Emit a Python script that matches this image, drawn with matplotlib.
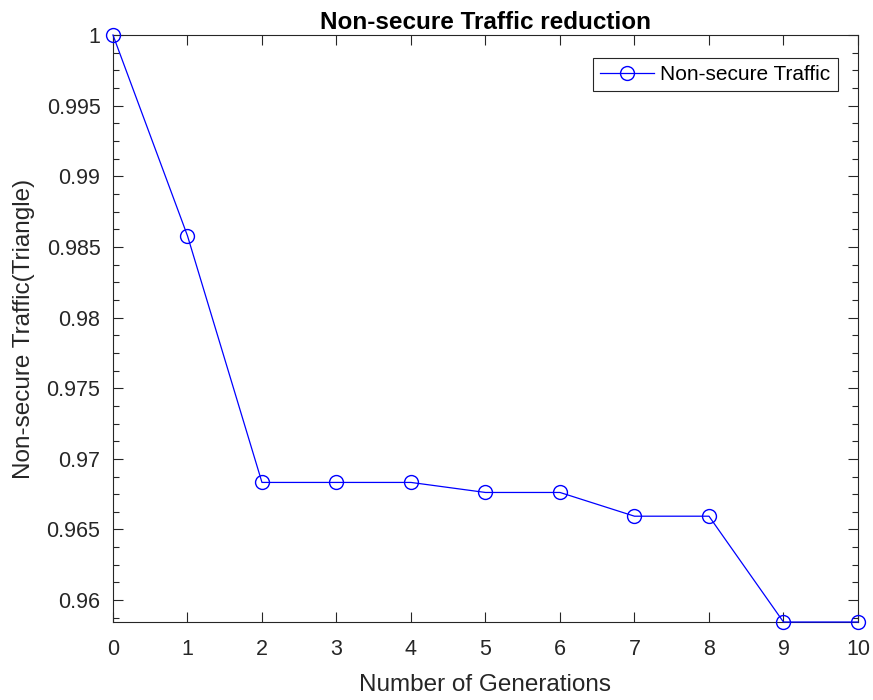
import matplotlib.pyplot as plt
from matplotlib.ticker import MultipleLocator

plt.rcParams['font.family'] = ['Liberation Sans', 'DejaVu Sans']

generations = [0, 1, 2, 3, 4, 5, 6, 7, 8, 9, 10]
traffic = [1.0, 0.98579, 0.96833, 0.96833, 0.96833, 0.96762, 0.96762,
           0.96594, 0.96594, 0.95845, 0.95845]

fig = plt.figure(figsize=(8.73, 7.0), dpi=100)
ax = fig.add_axes([0.1294, 0.1114, 0.8534, 0.8386])

ax.plot(generations, traffic, color='blue', lw=0.9, marker='o', ms=10,
        mfc='none', mec='blue', mew=1.0, label='Non-secure Traffic',
        clip_on=False, zorder=3)

ax.set_xlim(0, 10)
ax.set_ylim(min(traffic), 1.0)
ax.xaxis.set_major_locator(MultipleLocator(1))
ax.yaxis.set_minor_locator(MultipleLocator(0.00125))
ax.set_yticks([0.96, 0.965, 0.97, 0.975, 0.98, 0.985, 0.99, 0.995, 1.0])
ax.set_yticklabels(['0.96', '0.965', '0.97', '0.975', '0.98', '0.985',
                    '0.99', '0.995', '1'])

ax.tick_params(which='both', direction='in', top=True, right=True,
               colors='#262626', labelsize=15.5, width=0.8)
ax.tick_params(which='major', length=7)
ax.tick_params(which='minor', length=4)
ax.tick_params(axis='x', pad=12)
ax.tick_params(axis='y', pad=9)
for s in ax.spines.values():
    s.set_color('#262626')
    s.set_linewidth(0.8)

ax.set_xlabel('Number of Generations', fontsize=17.5, color='#262626',
              labelpad=10)
ax.set_ylabel('Non-secure Traffic(Triangle)', fontsize=17.5, color='#262626',
              labelpad=8)
ax.set_title('Non-secure Traffic reduction', fontsize=17.5, fontweight='bold',
             pad=4)

leg = ax.legend(loc='upper right', bbox_to_anchor=(0.973, 0.961), fontsize=15,
                fancybox=False, framealpha=1, edgecolor='#262626',
                handlelength=2.6, handletextpad=0.3, borderpad=0.35,
                borderaxespad=0)
leg.get_frame().set_linewidth(0.8)

fig.savefig('out.png', dpi=100)
